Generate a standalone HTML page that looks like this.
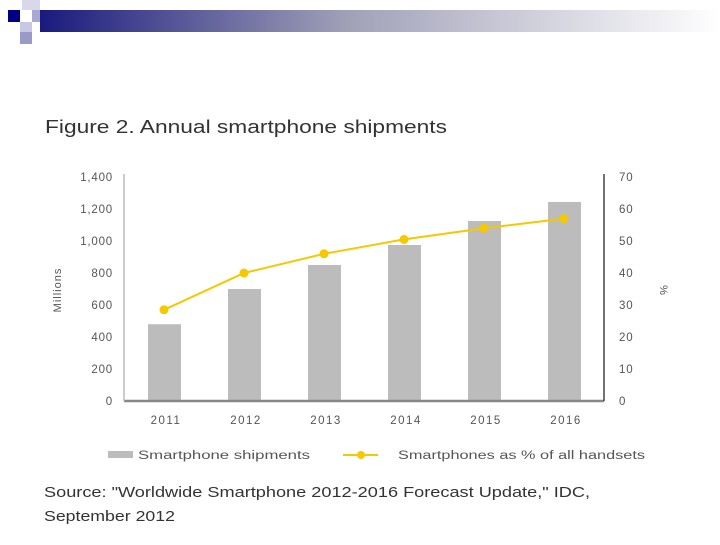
<!DOCTYPE html>
<html><head><meta charset="utf-8"><style>
body{margin:0;width:720px;height:540px;background:#fff;overflow:hidden;font-family:"Liberation Sans",sans-serif;}
</style></head><body>
<svg width="720" height="540" xmlns="http://www.w3.org/2000/svg">
<defs><linearGradient id="hg" x1="0" x2="1"><stop offset="0" stop-color="#1a1a7e"/><stop offset="0.45" stop-color="#a0a0b8"/><stop offset="1" stop-color="#ffffff"/></linearGradient></defs>
<g>
<rect x="40" y="10" width="680" height="22" fill="url(#hg)"/>
<rect x="22" y="0" width="18" height="10" fill="#d8d8ea"/>
<rect x="32" y="10" width="8" height="12" fill="#a8a8d0"/>
<rect x="8" y="10" width="12" height="12" fill="#000080"/>
<rect x="20" y="22" width="12" height="22" fill="#c8c8e4"/>
<rect x="20" y="32" width="12" height="12" fill="#9a9ac8"/>
</g>
<text x="45" y="133" font-size="18" fill="#333" textLength="402" lengthAdjust="spacingAndGlyphs">Figure 2. Annual smartphone shipments</text>
<g id="chart"></g>
<g>
<rect x="108" y="451" width="25" height="7" fill="#bcbcbc"/>
<text x="138" y="459" font-size="11.5" fill="#555" textLength="172" lengthAdjust="spacingAndGlyphs">Smartphone shipments</text>
<line x1="343" y1="455" x2="378" y2="455" stroke="#f5c800" stroke-width="2"/>
<circle cx="361" cy="455" r="4" fill="#f5c800"/>
<text x="398" y="459" font-size="11.5" fill="#555" textLength="247" lengthAdjust="spacingAndGlyphs">Smartphones as % of all handsets</text>
</g>
<text x="44" y="497" font-size="15" fill="#333" textLength="546" lengthAdjust="spacingAndGlyphs">Source: "Worldwide Smartphone 2012-2016 Forecast Update," IDC,</text>
<text x="44" y="521" font-size="15" fill="#333" textLength="131" lengthAdjust="spacingAndGlyphs">September 2012</text>
</svg>
<script>
const categories=["2011","2012","2013","2014","2015","2016"];
const shipments=[480,700,850,975,1125,1244];
const percents=[28.5,40,46,50.5,54,57];
const leftTicks=[0,200,400,600,800,1000,1200,1400];
const rightTicks=[0,10,20,30,40,50,60,70];
const NS="http://www.w3.org/2000/svg";
const g=document.getElementById('chart');
const x0=124,x1=604,yB=401,yT=177;
const band=(x1-x0)/categories.length;
const xc=i=>x0+band*(i+0.5);
const yL=v=>yB-(v/1400)*(yB-yT);
const yR=v=>yB-(v/70)*(yB-yT);
function mk(t,a){const e=document.createElementNS(NS,t);for(const k in a)e.setAttribute(k,a[k]);g.appendChild(e);return e;}
shipments.forEach((v,i)=>{
const r=mk('rect',{x:xc(i)-16,y:yL(v),width:33,height:yB-yL(v),fill:'#bcbcbc'});


});
const ax=mk('line',{x1:x0,y1:yB,x2:x1,y2:yB,stroke:'#888','stroke-width':2.5});


const la=mk('line',{x1:x0,y1:yT-3,x2:x0,y2:yB,stroke:'#bbb','stroke-width':1.5});


const ra=mk('line',{x1:x1,y1:yT-3,x2:x1,y2:yB,stroke:'#444','stroke-width':1.5});


leftTicks.forEach(v=>{
const t=mk('text',{x:113,y:yL(v)+4,'font-size':11.5,fill:'#555','text-anchor':'end','letter-spacing':'0.8'});
t.textContent=v.toLocaleString('en-US');


});
rightTicks.forEach(v=>{
const t=mk('text',{x:619,y:yR(v)+4,'font-size':11.5,fill:'#555','letter-spacing':'0.8'});
t.textContent=v;


});
categories.forEach((c,i)=>{
const t=mk('text',{x:xc(i)+2,y:424,'font-size':11.5,fill:'#555','text-anchor':'middle','letter-spacing':'1.5'});
t.textContent=c;


});
const yt=mk('text',{x:61,y:290,'font-size':11,fill:'#555','text-anchor':'middle',transform:'rotate(-90 61 290)','letter-spacing':'1'});
yt.textContent='Millions';


const yt2=mk('text',{x:660,y:290,'font-size':11,fill:'#555','text-anchor':'middle',transform:'rotate(90 660 290)'});
yt2.textContent='%';


const pl=mk('polyline',{points:percents.map((v,i)=>xc(i)+','+yR(v)).join(' '),fill:'none',stroke:'#f5c800','stroke-width':2});


percents.forEach((v,i)=>{
const c=mk('circle',{cx:xc(i),cy:yR(v),r:4.5,fill:'#f5c800'});


});
</script>
</body></html>
